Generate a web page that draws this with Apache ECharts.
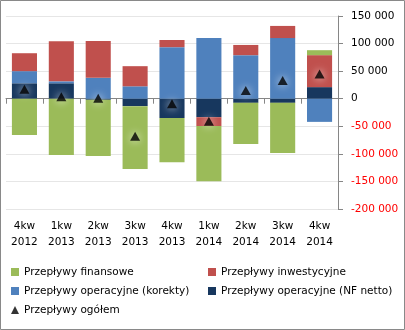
<!DOCTYPE html>
<html>
<head>
<meta charset="utf-8">
<script src="https://cdn.jsdelivr.net/npm/echarts@6/dist/echarts.min.js"></script>
<style>
  html, body { margin: 0; padding: 0; background: #fff; }
  #chart { width: 405px; height: 330px; }
</style>
</head>
<body>
<div id="chart"></div>
<script>
// Quarterly cash flows (PLN thousands)
const categories = ['4kw\n2012', '1kw\n2013', '2kw\n2013', '3kw\n2013', '4kw\n2013', '1kw\n2014', '2kw\n2014', '3kw\n2014', '4kw\n2014'];
const nfNetto      = [28000, 28000, -2000, -13500, -35000, -33500, -7500, -7500, 21000];
const korekty      = [22000, 3500, 38000, 22500, 93500, 110000, 79000, 110000, -42000];
const inwestycyjne = [32500, 72500, 66500, 36500, 13000, -16000, 18500, 22000, 58000];
const finansowe    = [-66000, -102000, -102000, -114000, -80000, -100000, -74500, -91000, 9000];
const ogolem       = [17000, 3500, 1000, -68000, -9000, -41000, 15000, 33000, 45000];

const FONT = 'DejaVu Sans';

function fmtThousands(v) {
  const n = Number(v);
  const s = Math.abs(n).toString().replace(/\B(?=(\d{3})+(?!\d))/g, ' ');
  return (n < 0 ? '-' : '') + s;
}

const chart = echarts.init(document.getElementById('chart'), null, { renderer: 'canvas' });

const barCommon = {
  type: 'bar',
  stack: 'flows',
  xAxisIndex: 0,
  barCategoryGap: '32%',
  emphasis: { disabled: true }
};

const legendText = { fontFamily: FONT, fontSize: 10.5, color: '#000', lineHeight: 12 };

chart.setOption({
  animation: false,
  backgroundColor: '#fff',
  graphic: [{
    type: 'rect',
    shape: { x: 0.5, y: 0.5, width: 404, height: 329 },
    style: { fill: 'none', stroke: '#898989', lineWidth: 1 },
    silent: true
  }],
  grid: { left: 6, right: 67, top: 16, bottom: 121 },
  legend: [
    {
      orient: 'vertical', left: 11, top: 266, padding: 0,
      itemWidth: 8, itemHeight: 8, itemGap: 7,
      textStyle: legendText,
      data: [
        { name: 'Przepływy finansowe', icon: 'rect' },
        { name: 'Przepływy operacyjne (korekty)', icon: 'rect' },
        { name: 'Przepływy ogółem', icon: 'triangle', itemStyle: { color: '#000' } }
      ]
    },
    {
      orient: 'vertical', left: 208, top: 266, padding: 0,
      itemWidth: 8, itemHeight: 8, itemGap: 7,
      textStyle: legendText,
      data: [
        { name: 'Przepływy inwestycyjne', icon: 'rect' },
        { name: 'Przepływy operacyjne (NF netto)', icon: 'rect' }
      ]
    }
  ],
  xAxis: [
    {
      type: 'category',
      data: categories,
      boundaryGap: true,
      axisLine: { onZero: true, lineStyle: { color: '#868686', width: 1 } },
      axisTick: { show: true, length: 5, lineStyle: { color: '#868686' } },
      axisLabel: { show: false },
      splitLine: { show: false }
    },
    {
      type: 'category',
      data: categories,
      position: 'bottom',
      boundaryGap: true,
      axisLine: { show: false, onZero: false },
      axisTick: { show: false },
      axisLabel: {
        show: true, interval: 0, margin: 9,
        fontFamily: FONT, fontSize: 10.5, color: '#000', lineHeight: 16
      },
      splitLine: { show: false }
    }
  ],
  yAxis: {
    type: 'value',
    position: 'right',
    min: -200000, max: 150000, interval: 50000,
    axisLine: { show: true, lineStyle: { color: '#868686' } },
    axisTick: { show: true, length: 5, lineStyle: { color: '#868686' } },
    axisLabel: {
      margin: 13,
      fontFamily: FONT, fontSize: 10.5,
      formatter: fmtThousands,
      color: function (value) { return Number(value) < 0 ? '#FF0000' : '#000'; }
    },
    splitLine: { show: true, lineStyle: { color: '#e6e6e6', width: 1 } }
  },
  series: [
    Object.assign({}, barCommon, { name: 'Przepływy operacyjne (NF netto)', data: nfNetto, itemStyle: { color: '#17375E' } }),
    Object.assign({}, barCommon, { name: 'Przepływy operacyjne (korekty)', data: korekty, itemStyle: { color: '#4F81BD' } }),
    Object.assign({}, barCommon, { name: 'Przepływy inwestycyjne', data: inwestycyjne, itemStyle: { color: '#C0504D' } }),
    Object.assign({}, barCommon, { name: 'Przepływy finansowe', data: finansowe, itemStyle: { color: '#9BBB59' } }),
    {
      name: 'Przepływy ogółem',
      type: 'scatter',
      xAxisIndex: 0,
      data: ogolem,
      symbol: 'triangle',
      symbolSize: [10, 9],
      z: 5,
      itemStyle: {
        color: '#000',
        shadowBlur: 8,
        shadowColor: '#fff'
      },
      emphasis: { disabled: true }
    }
  ]
});
</script>
</body>
</html>
